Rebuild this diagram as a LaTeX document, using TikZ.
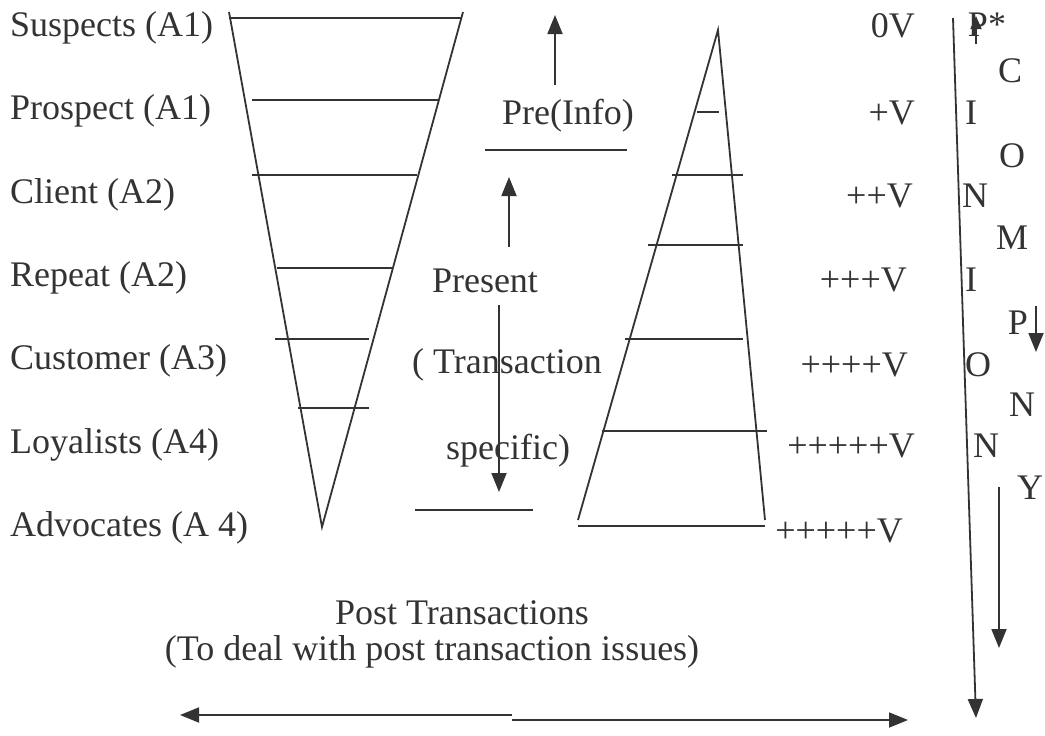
\documentclass[tikz,border=0pt]{standalone}
\usepackage{fontspec}
\setmainfont{Liberation Serif}
\usetikzlibrary{positioning, arrows.meta}

\begin{document}
\begin{tikzpicture}[
        x=1pt, y=-1pt,
        every node/.style={font=\fontsize{36}{42}\selectfont, text=black!80, inner sep=0pt},
        stage/.style={anchor=west},
        worth/.style={anchor=east},
        letter/.style={anchor=center},
        edge/.style={draw=black!80, line width=1.8pt},
        arrow/.style={edge, -{Triangle[length=19pt, width=15pt]}}
    ]
    \useasboundingbox (0,0) rectangle (1045,736);

    % stages of the customer ladder
    \node[stage] (suspects) at (10,28) {Suspects (A1)};
    \node[stage] (prospect) at (10,111) {Prospect (A1)};
    \node[stage] (client) at (10,195) {Client (A2)};
    \node[stage] (repeat) at (10,278) {Repeat (A2)};
    \node[stage] (customer) at (10,361) {Customer (A3)};
    \node[stage] (loyalists) at (10,445) {Loyalists (A4)};
    \node[stage] (advocates) at (10,528) {Advocates (A 4)};

    % funnel
    \coordinate (funnel_tl) at (229,12);
    \coordinate (funnel_tr) at (463,12);
    \coordinate (funnel_tip) at (322,527);
    \draw[edge] (funnel_tl) -- (funnel_tip) -- (funnel_tr);
    \draw[edge] (229,18) -- (462,18);
    \draw[edge] (252,100) -- (438,100);
    \draw[edge] (252,175) -- (417,175);
    \draw[edge] (277,268) -- (392,268);
    \draw[edge] (275,339) -- (369,339);
    \draw[edge] (298,408) -- (369,408);

    % pyramid
    \coordinate (pyr_top) at (718,30);
    \coordinate (pyr_bl) at (578,520);
    \coordinate (pyr_br) at (765,520);
    \draw[edge] (pyr_bl) -- (pyr_top) -- (pyr_br);
    \draw[edge] (578,526) -- (765,526);
    \draw[edge] (697,112) -- (719,112);
    \draw[edge] (672,175) -- (743,175);
    \draw[edge] (648,245) -- (743,245);
    \draw[edge] (625,339) -- (743,339);
    \draw[edge] (602,431) -- (767,431);

    % middle column
    \node (pre) at (568,116) {Pre(Info)};
    \coordinate (pre_up_s) at (555,85);
    \coordinate (pre_up_e) at (555,15);
    \draw[arrow] (pre_up_s) -- (pre_up_e);
    \draw[edge] (485,150) -- (627,150);
    \coordinate (present_up_s) at (509,247);
    \coordinate (present_up_e) at (509,177);
    \draw[arrow] (present_up_s) -- (present_up_e);
    \node (present) at (485,281) {Present};
    \node (transaction) at (507,365) {( Transaction};
    \node (specific) at (508,451) {specific)};
    \coordinate (present_dn_s) at (499,305);
    \coordinate (present_dn_e) at (499,492);
    \draw[arrow] (present_dn_s) -- (present_dn_e);
    \draw[edge] (415,510) -- (533,510);

    % value column
    \node[worth] (v0) at (915,26) {0V};
    \node[worth] (v1) at (915,113) {+V};
    \node[worth] (v2) at (913,196) {++V};
    \node[worth] (v3) at (907,280) {+++V};
    \node[worth] (v4) at (908,365) {++++V};
    \node[worth] (v5) at (915,446) {+++++V};
    \node[worth] (v6) at (903,531) {+++++V};

    % PICONOMPINONY column
    \coordinate (long_s) at (953,18);
    \coordinate (long_e) at (976,718);
    \draw[arrow] (long_s) -- (long_e);
    \node[letter] (l_p) at (987,25) {P*};
    \coordinate (small_up_s) at (976,44);
    \coordinate (small_up_e) at (976,16);
    \draw[arrow, -{Triangle[length=13pt, width=11pt]}] (small_up_s) -- (small_up_e);
    \node[letter] (l_c) at (1010,71) {C};
    \node[letter] (l_i) at (971,113) {I};
    \node[letter] (l_o) at (1012,156) {O};
    \node[letter] (l_n) at (975,196) {N};
    \node[letter] (l_m) at (1012,238) {M};
    \node[letter] (l_i2) at (971,280) {I};
    \node[letter] (l_p2) at (1018,323) {P};
    \coordinate (small_dn_s) at (1036,306);
    \coordinate (small_dn_e) at (1036,352);
    \draw[arrow] (small_dn_s) -- (small_dn_e);
    \node[letter] (l_o2) at (978,365) {O};
    \node[letter] (l_n2) at (1022,405) {N};
    \node[letter] (l_n3) at (986,446) {N};
    \node[letter] (l_y) at (1030,488) {Y};
    \coordinate (mid_dn_s) at (999,487);
    \coordinate (mid_dn_e) at (999,648);
    \draw[arrow] (mid_dn_s) -- (mid_dn_e);

    % post transactions
    \node (post) at (462,613) {Post Transactions};
    \node (issues) at (432,652) {(To deal with post transaction issues)};
    \coordinate (split_l) at (512,715);
    \coordinate (split_r) at (512,720);
    \coordinate (left_end) at (180,715);
    \coordinate (right_end) at (908,720);
    \draw[arrow] (split_l) -- (left_end);
    \draw[arrow] (split_r) -- (right_end);

\end{tikzpicture}
\end{document}
